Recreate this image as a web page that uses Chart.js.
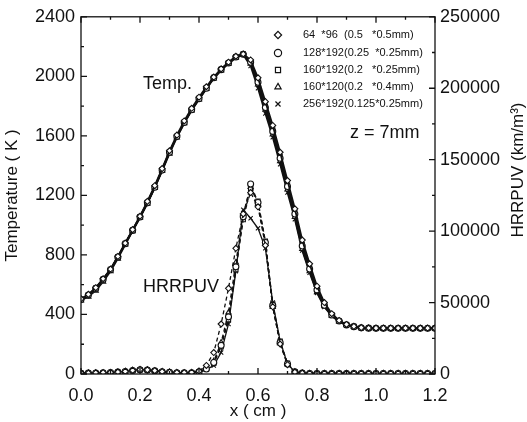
<!DOCTYPE html>
<html><head><meta charset="utf-8">
<script src="https://cdn.jsdelivr.net/npm/chart.js@4"></script>
<style>html,body{margin:0;padding:0;background:#fff}#wrap{width:527px;height:422px}</style>
</head><body><div id="wrap"><canvas id="c" width="527" height="422"></canvas></div>
<script>
// ---- data ----
const xs = [0,0.025,0.05,0.075,0.1,0.125,0.15,0.175,0.2,0.225,0.25,0.275,0.3,0.325,0.35,0.375,0.4,0.425,0.45,0.475,0.5,0.525,0.55,0.575,0.6,0.625,0.65,0.675,0.7,0.725,0.75,0.775,0.8,0.825,0.85,0.875,0.9,0.925,0.95,0.975,1.0,1.025,1.05,1.075,1.1,1.125,1.15,1.175,1.2];
const seriesNames = ["64  *96  (0.5   *0.5mm)","128*192(0.25  *0.25mm)","160*192(0.2   *0.25mm)","160*120(0.2   *0.4mm)","256*192(0.125*0.25mm)"];
const tempA = [505,535,580,640,705,790,880,970,1060,1160,1265,1380,1500,1605,1700,1785,1860,1930,1995,2050,2095,2135,2150,2110,1990,1830,1670,1490,1300,1110,900,740,590,480,405,360,333,320,312,309,308,308,308,308,308,308,308,308,308];
const tempB = [500,530,575,635,700,785,875,965,1055,1150,1255,1370,1490,1595,1690,1775,1850,1920,1990,2045,2090,2130,2148,2095,1960,1790,1630,1450,1260,1075,860,705,565,462,396,356,330,318,310,308,307,307,307,307,307,307,307,307,307];
const tempC = [500,532,577,637,702,787,877,967,1057,1152,1257,1372,1492,1597,1692,1777,1852,1922,1992,2047,2092,2132,2150,2100,1970,1800,1640,1460,1270,1085,870,712,570,466,398,357,331,319,311,308,307,307,307,307,307,307,307,307,307];
const tempD = [495,520,560,620,690,775,870,960,1050,1145,1250,1365,1480,1590,1685,1770,1845,1915,1985,2040,2085,2125,2145,2085,1945,1775,1610,1430,1240,1055,840,690,550,455,392,353,329,317,310,307,306,306,306,306,306,306,306,306,306];
const tempE = [500,530,575,635,700,785,875,965,1055,1150,1255,1370,1490,1595,1690,1775,1850,1920,1990,2045,2090,2130,2145,2070,1920,1750,1590,1410,1220,1040,830,680,545,450,390,352,328,316,309,307,306,306,306,306,306,306,306,306,306];
const hrrA = [600,700,800,900,1100,1400,1900,2600,3100,2900,2300,1700,1300,1000,900,1100,2000,6000,15000,35000,60000,88000,112000,127000,117000,90000,47000,21000,6500,1400,600,400,400,400,400,400,400,400,400,400,400,400,400,400,400,400,400,400,400];
const hrrB = [500,600,700,800,1000,1300,1800,2500,3000,2800,2200,1600,1200,900,800,900,1500,3500,8000,20000,40000,75000,110000,133000,120000,92000,48000,22000,7000,1500,600,400,400,400,400,400,400,400,400,400,400,400,400,400,400,400,400,400,400];
const hrrC = [500,550,650,800,950,1250,1700,2400,2900,2700,2100,1500,1100,850,750,850,1400,3200,7500,19000,38000,73000,108000,130000,121000,93000,49000,23000,7500,1600,600,400,400,400,400,400,400,400,400,400,400,400,400,400,400,400,400,400,400];
const hrrD = [550,650,750,850,1050,1350,1850,2550,3050,2850,2250,1650,1250,950,850,950,1600,4000,9000,22000,43000,78000,112000,131000,119000,91000,47000,21500,6800,1500,600,400,400,400,400,400,400,400,400,400,400,400,400,400,400,400,400,400,400];
const hrrE = [500,600,700,800,1000,1300,1800,2500,3000,2800,2200,1600,1200,900,800,900,1300,3000,6000,15000,35000,72000,115000,109000,102000,88000,50000,23000,7000,1500,600,400,400,400,400,400,400,400,400,400,400,400,400,400,400,400,400,400,400];
const xTicks = [0,0.2,0.4,0.6,0.8,1.0,1.2];
const tempTicks = [0,400,800,1200,1600,2000,2400];
const hrrTicks = [0,50000,100000,150000,200000,250000];

// ---- styles ----
const markerStyles = ['rectRot','circle','rect','triangle','crossRot'];
const temps = [tempA,tempB,tempC,tempD,tempE];
const hrrs = [hrrA,hrrB,hrrC,hrrD,hrrE];
const INK = '#111';
const pts = arr => xs.map((x,i)=>({x:x,y:arr[i]}));

const datasets = [];
temps.forEach((t,i)=>datasets.push({label:seriesNames[i],data:pts(t),yAxisID:'y',borderColor:INK,borderWidth:1.8,
  pointStyle:markerStyles[i],pointRadius:3,pointBorderWidth:1.1,pointBackgroundColor:'#fff',pointBorderColor:INK,tension:0}));
hrrs.forEach((h,i)=>datasets.push({label:seriesNames[i]+' HRRPUV',data:pts(h),yAxisID:'y2',borderColor:INK,borderWidth:1.3,
  borderDash: i===4?[]:[4,3],pointStyle:markerStyles[i],pointRadius:3,pointBorderWidth:1.1,pointBackgroundColor:'#fff',pointBorderColor:INK,tension:0}));

const FONT = "'Liberation Sans', Arial, sans-serif";

const decor = {id:'decor', afterDraw(chart){
  const {ctx, chartArea:a, scales} = chart;
  ctx.save();
  ctx.strokeStyle = INK; ctx.lineWidth = 1.3;
  ctx.strokeRect(a.left, a.top, a.right-a.left, a.bottom-a.top);
  const mids = vals => { const o=[]; for(let i=0;i<vals.length-1;i++) o.push((vals[i]+vals[i+1])/2); return o; };
  ctx.beginPath();
  const sx = scales.x, sy = scales.y, s2 = scales.y2;
  xTicks.forEach(v=>{const p=sx.getPixelForValue(v); ctx.moveTo(p,a.bottom); ctx.lineTo(p,a.bottom-6); ctx.moveTo(p,a.top); ctx.lineTo(p,a.top+6);});
  mids(xTicks).forEach(v=>{const p=sx.getPixelForValue(v); ctx.moveTo(p,a.bottom); ctx.lineTo(p,a.bottom-3); ctx.moveTo(p,a.top); ctx.lineTo(p,a.top+3);});
  tempTicks.forEach(v=>{const p=sy.getPixelForValue(v); ctx.moveTo(a.left,p); ctx.lineTo(a.left+6,p);});
  mids(tempTicks).forEach(v=>{const p=sy.getPixelForValue(v); ctx.moveTo(a.left,p); ctx.lineTo(a.left+3,p);});
  hrrTicks.forEach(v=>{const p=s2.getPixelForValue(v); ctx.moveTo(a.right,p); ctx.lineTo(a.right-6,p);});
  mids(hrrTicks).forEach(v=>{const p=s2.getPixelForValue(v); ctx.moveTo(a.right,p); ctx.lineTo(a.right-3,p);});
  ctx.stroke();

  // annotations
  ctx.fillStyle = INK; ctx.textBaseline = 'alphabetic'; ctx.textAlign = 'left';
  ctx.font = "18px " + FONT;
  ctx.fillText('Temp.', 143, 89);
  ctx.fillText('HRRPUV', 143, 292);
  ctx.fillText('z = 7mm', 350, 138);

  // right axis title (reads bottom-to-top)
  ctx.save();
  ctx.translate(518, 170); ctx.rotate(-Math.PI/2);
  ctx.textAlign='center'; ctx.textBaseline='middle';
  ctx.font = "17px " + FONT;
  ctx.fillText('HRRPUV (km/m³)', 0, 0);
  ctx.restore();

  // legend
  const rows = [35,53,70,87,104];
  ctx.font = "11px " + FONT; ctx.textBaseline='middle'; ctx.textAlign='left';
  seriesNames.forEach((n,i)=>{
    ctx.strokeStyle = INK; ctx.fillStyle = '#fff'; ctx.lineWidth = 1.2;
    Chart.helpers.drawPoint(ctx, {pointStyle:markerStyles[i], radius:3.6, borderWidth:1.2, rotation:0}, 278, rows[i]);
    ctx.fillStyle = INK;
    ctx.fillText(n, 303, rows[i]);
  });
  ctx.restore();
}};

new Chart(document.getElementById('c'), {
  type:'line',
  data:{datasets},
  options:{
    responsive:false, animation:false, devicePixelRatio:1,
    layout:{padding:{top:15,left:0,right:0,bottom:0}},
    plugins:{legend:{display:false}, tooltip:{enabled:false}},
    scales:{
      x:{type:'linear',min:0,max:1.2,
        afterFit(s){s.height=48;},
        afterBuildTicks(s){s.ticks = xTicks.map(v=>({value:v}));},
        grid:{display:false,drawTicks:false},
        border:{display:false},
        ticks:{padding:11,color:INK,font:{size:18,family:FONT},callback:v=>Number(v).toFixed(1),maxRotation:0},
        title:{display:true,text:'x ( cm )',color:INK,font:{size:17,family:FONT},padding:{top:0,bottom:0}}},
      y:{type:'linear',position:'left',min:0,max:2400,
        afterFit(s){s.width=81;},
        afterBuildTicks(s){s.ticks = tempTicks.map(v=>({value:v}));},
        grid:{display:false,drawTicks:false},
        border:{display:false},
        ticks:{padding:6,color:INK,font:{size:18,family:FONT},callback:v=>String(v)},
        title:{display:true,text:'Temperature ( K )',color:INK,font:{size:17,family:FONT},padding:{top:2,bottom:0}}},
      y2:{type:'linear',position:'right',min:0,max:250000,
        afterFit(s){s.width=92;},
        afterBuildTicks(s){s.ticks = hrrTicks.map(v=>({value:v}));},
        grid:{display:false,drawTicks:false},
        border:{display:false},
        ticks:{padding:5,color:INK,font:{size:18,family:FONT},callback:v=>String(v)}}
    }
  },
  plugins:[decor]
});
</script></body></html>
